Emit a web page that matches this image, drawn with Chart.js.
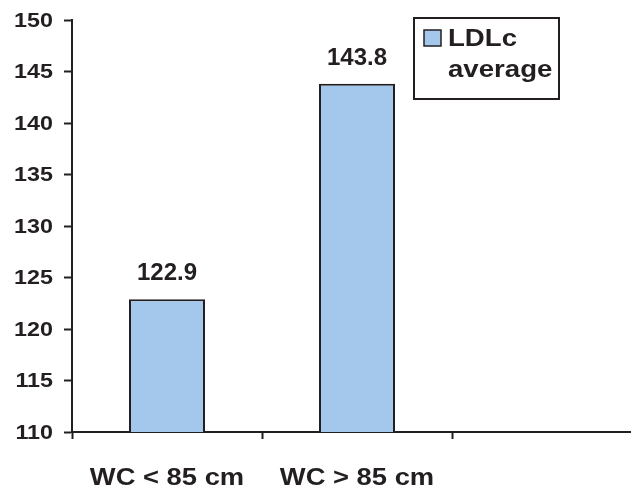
<!DOCTYPE html>
<html>
<head>
<meta charset="utf-8">
<script src="https://cdn.jsdelivr.net/npm/chart.js@4/dist/chart.umd.min.js"></script>
<style>
  html, body { margin: 0; padding: 0; background: #fff; overflow: hidden; }
  #wrap { position: relative; width: 645px; height: 489px; }
</style>
</head>
<body>
<div id="wrap"><canvas id="c" width="645" height="489"></canvas></div>
<script>
// Waist-circumference groups (third slot left empty on the axis)
const categories = ['WC < 85 cm', 'WC > 85 cm', ''];
const ldlAverage = [122.9, 143.8, null];
const seriesName = ['LDLc', 'average'];
const yTicks = [110, 115, 120, 125, 130, 135, 140, 145, 150];

const ink = '#231F20';
const barFill = '#A4C8EC';
const family = '"Liberation Sans", Arial, sans-serif';

// Draw text with a slightly widened face
function wideText(ctx, text, x, y, sx) {
  ctx.save();
  ctx.translate(x, y);
  ctx.scale(sx, 1);
  ctx.fillText(text, 0, 0);
  ctx.restore();
}

// Value labels above each bar
const valueLabels = {
  id: 'valueLabels',
  afterDatasetsDraw(chart) {
    const ctx = chart.ctx;
    const meta = chart.getDatasetMeta(0);
    ctx.save();
    ctx.font = `bold 24px ${family}`;
    ctx.fillStyle = ink;
    ctx.textAlign = 'center';
    ctx.textBaseline = 'alphabetic';
    meta.data.forEach((bar, i) => {
      const v = ldlAverage[i];
      if (v == null) return;
      ctx.fillText(v.toFixed(1), bar.x, bar.y - 19);
    });
    ctx.restore();
  }
};

// Axis text: category names and y tick values
const axisText = {
  id: 'axisText',
  afterDraw(chart) {
    const ctx = chart.ctx;
    const x = chart.scales.x;
    const y = chart.scales.y;
    ctx.save();
    ctx.fillStyle = ink;
    ctx.textBaseline = 'alphabetic';
    ctx.font = `bold 24px ${family}`;
    ctx.textAlign = 'center';
    categories.forEach((c, i) => {
      if (!c) return;
      wideText(ctx, c, x.getPixelForValue(i), 485, 1.14);
    });
    ctx.font = `bold 21px ${family}`;
    ctx.textAlign = 'right';
    ctx.textBaseline = 'middle';
    yTicks.forEach(v => {
      wideText(ctx, String(v), 53, y.getPixelForValue(v) + 1, 1.11);
    });
    ctx.restore();
  }
};

// Boxed legend with a two-line series name
const boxLegend = {
  id: 'boxLegend',
  afterDraw(chart) {
    const ctx = chart.ctx;
    const ds = chart.data.datasets[0];
    ctx.save();
    ctx.lineWidth = 2;
    ctx.strokeStyle = ink;
    ctx.fillStyle = '#fff';
    ctx.fillRect(414, 18, 145, 81);
    ctx.strokeRect(414, 18, 145, 81);
    ctx.fillStyle = ds.backgroundColor;
    ctx.fillRect(424, 30, 17, 16);
    ctx.lineWidth = 1.5;
    ctx.strokeRect(424, 30, 17, 16);
    ctx.fillStyle = ink;
    ctx.font = `bold 24px ${family}`;
    ctx.textAlign = 'left';
    ctx.textBaseline = 'alphabetic';
    wideText(ctx, seriesName[0], 448, 46, 1.15);
    wideText(ctx, seriesName[1], 448, 77, 1.15);
    ctx.restore();
  }
};

new Chart(document.getElementById('c'), {
  type: 'bar',
  data: {
    labels: categories,
    datasets: [{
      label: seriesName.join(' '),
      data: ldlAverage,
      backgroundColor: barFill,
      borderColor: ink,
      borderWidth: 2,
      borderSkipped: false,
      barPercentage: 0.4,
      categoryPercentage: 1.0
    }]
  },
  options: {
    responsive: false,
    animation: false,
    layout: { padding: { top: 20, right: 3, left: 0, bottom: 0 } },
    plugins: { legend: { display: false }, tooltip: { enabled: false } },
    scales: {
      x: {
        offset: true,
        grid: {
          offset: true,
          drawOnChartArea: false,
          drawTicks: true,
          tickLength: 7,
          tickColor: ink,
          tickWidth: 2
        },
        border: { color: ink, width: 2 },
        ticks: { display: false },
        afterFit(s) { s.height = 57; }
      },
      y: {
        min: 110,
        max: 150,
        afterBuildTicks(s) { s.ticks = yTicks.map(v => ({ value: v })); },
        grid: {
          drawOnChartArea: false,
          drawTicks: true,
          tickLength: 8,
          tickColor: ink,
          tickWidth: 2
        },
        border: { color: ink, width: 2 },
        ticks: { display: false },
        afterFit(s) { s.width = 72; }
      }
    }
  },
  plugins: [valueLabels, axisText, boxLegend]
});
</script>
</body>
</html>
